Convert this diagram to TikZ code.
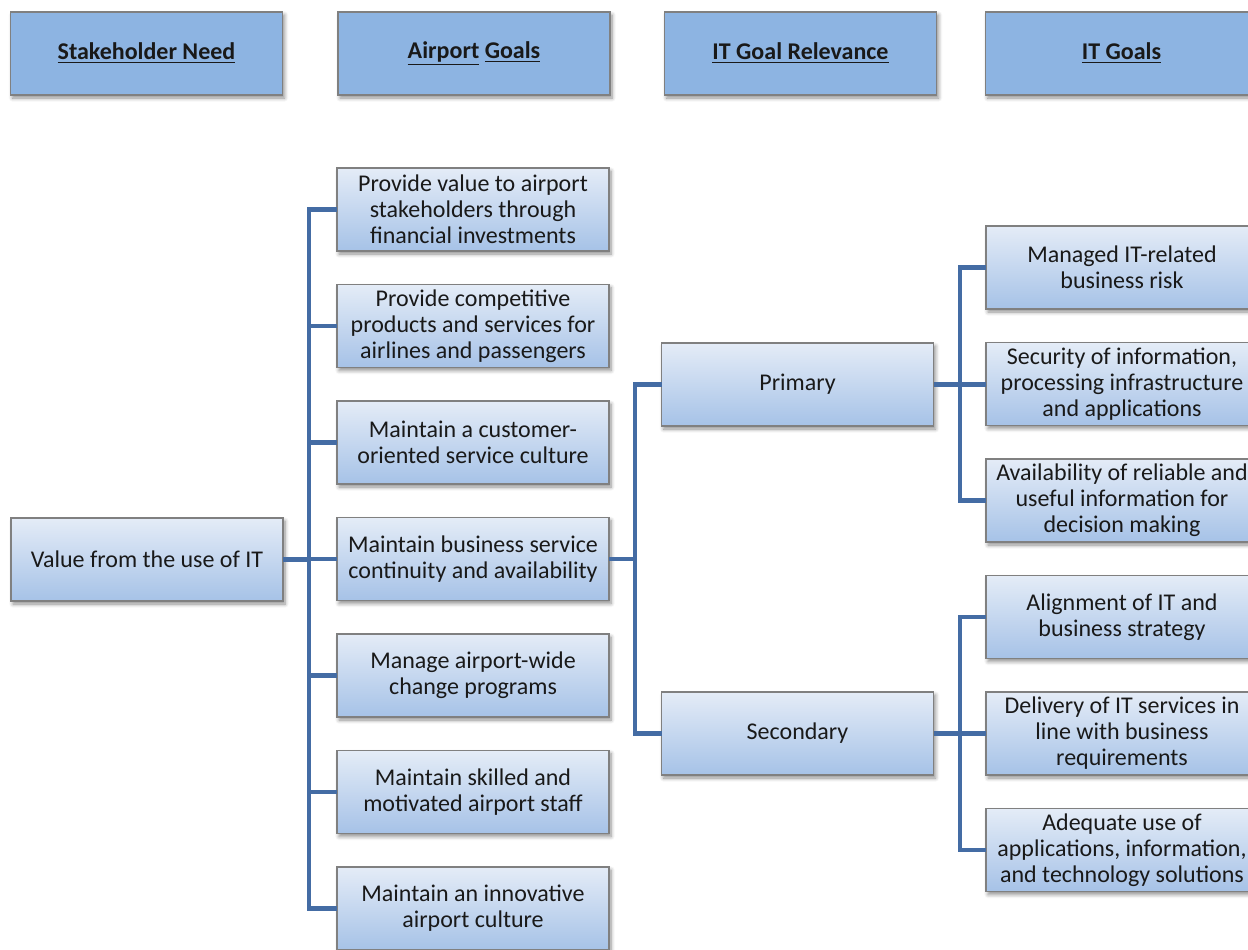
\documentclass[tikz,border=0pt]{standalone}
\usepackage{fontspec}
\setmainfont{Carlito}
\usetikzlibrary{positioning,shadows.blur}
\definecolor{headblue}{RGB}{141,180,226}
\definecolor{boxtop}{RGB}{228,236,247}
\definecolor{boxbot}{RGB}{166,194,231}
\definecolor{rim}{RGB}{128,128,128}
\definecolor{linkblue}{RGB}{68,108,164}
\definecolor{ink}{RGB}{25,25,25}

\begin{document}
\begin{tikzpicture}[
  x=0.5pt, y=-0.5pt,
  node distance=16.75pt,
  base/.style={draw=rim, line width=0.6pt, minimum width=136pt, minimum height=41.5pt,
               inner sep=0pt, outer sep=0pt, align=center, text=ink,
               font=\fontsize{12}{13}\selectfont,
               blur shadow={shadow xshift=1pt, shadow yshift=-1.5pt,
                            shadow blur steps=6, shadow opacity=45}},
  head/.style={base, fill=headblue, font=\fontsize{12}{13}\selectfont\bfseries},
  box/.style={base, top color=boxtop, bottom color=boxbot},
  link/.style={draw=linkblue, line width=2.2pt}
]
\useasboundingbox (0,0) rectangle (1248,949);

% column headers
\node[head] (hneed) at (146.5,53.5) {\underline{Stakeholder Need}};
\node[head] (hgoal) at (474,53.5) {\underline{Airport} \underline{Goals}};
\node[head] (hrel) at (800.5,53.5) {\underline{IT Goal Relevance}};
\node[head] (hit) at (1121.5,53.5) {\underline{IT Goals}};

% stakeholder need
\node[box] (need) at (147,559.5) {Value from the use of IT};

% airport goals
\node[box] (g1) at (473,209.5) {Provide value to airport\\ stakeholders through\\ financial investments};
\node[box, below=of g1] (g2) {Provide competitive\\ products and services for\\ airlines and passengers};
\node[box, below=of g2] (g3) {Maintain a customer-\\ oriented service culture};
\node[box, below=of g3] (g4) {Maintain business service\\ continuity and availability};
\node[box, below=of g4] (g5) {Manage airport-wide\\ change programs};
\node[box, below=of g5] (g6) {Maintain skilled and\\ motivated airport staff};
\node[box, below=of g6] (g7) {Maintain an innovative\\ airport culture};

% relevance
\node[box] (prim) at (797.5,384.5) {Primary};
\node[box] (sec) at (797.5,733.5) {Secondary};

% IT goals
\node[box] (it1) at (1122,267.5) {Managed IT-related\\ business risk};
\node[box, below=of it1] (it2) {Security of information,\\ processing infrastructure\\ and applications};
\node[box, below=of it2] (it3) {Availability of reliable and\\ useful information for\\ decision making};
\node[box, below=of it3] (it4) {Alignment of IT and\\ business strategy};
\node[box, below=of it4] (it5) {Delivery of IT services in\\ line with business\\ requirements};
\node[box, below=of it5] (it6) {Adequate use of\\ applications, information,\\ and technology solutions};

% connectors
\coordinate (spA) at (309,0);
\coordinate (spB) at (635,0);
\coordinate (spC) at (960,0);
\draw[link] (need.east) -- (need.east -| spA);
\draw[link] (g1.west) -- (g1.west -| spA) -- (g7.west -| spA) -- (g7.west);
\foreach \i in {2,...,6}
  \draw[link] (g\i.west -| spA) -- (g\i.west);
\draw[link] (g4.east) -- (g4.east -| spB);
\draw[link] (prim.west) -- (prim.west -| spB) -- (sec.west -| spB) -- (sec.west);
\draw[link] (prim.east) -- (prim.east -| it2.west);
\draw[link] (it1.west) -- (it1.west -| spC) -- (it3.west -| spC) -- (it3.west);
\draw[link] (sec.east) -- (sec.east -| it5.west);
\draw[link] (it4.west) -- (it4.west -| spC) -- (it6.west -| spC) -- (it6.west);
\end{tikzpicture}
\end{document}
